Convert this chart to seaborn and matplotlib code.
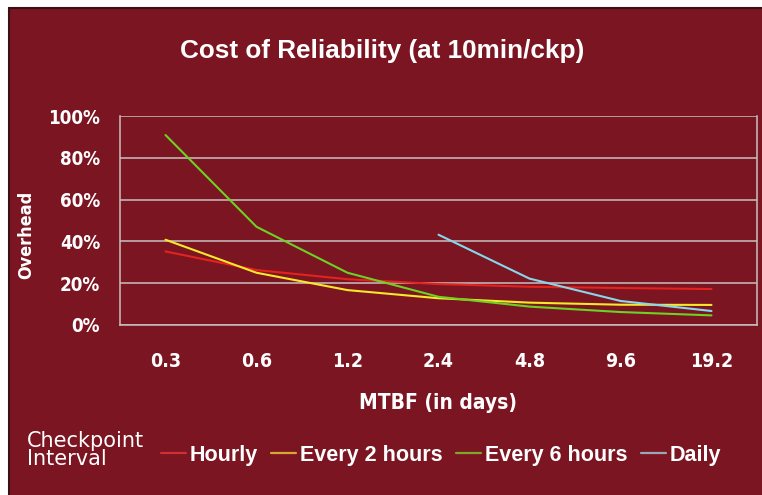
import matplotlib
matplotlib.use("Agg")
import matplotlib.pyplot as plt
from matplotlib.patches import Rectangle
from matplotlib.lines import Line2D
from matplotlib.ticker import FixedLocator, FuncFormatter
from matplotlib.font_manager import FontProperties
import seaborn as sns
import pandas as pd
import numpy as np

# MTBF categories (days) and overhead (%) per checkpoint interval
mtbf = ["0.3", "0.6", "1.2", "2.4", "4.8", "9.6", "19.2"]
hourly = [35.2, 26.3, 21.9, 19.6, 18.3, 17.7, 17.2]
every_2h = [40.8, 25.0, 16.7, 12.8, 10.7, 9.7, 9.6]
every_6h = [90.9, 47.0, 25.0, 13.5, 8.8, 6.2, 4.6]
daily = [None, None, None, 43.2, 22.2, 11.5, 6.7]
series_names = ["Hourly", "Every 2 hours", "Every 6 hours", "Daily"]
yticks = [0, 20, 40, 60, 80, 100]

BG = "#7B1522"
line_colors = ["#E4221E", "#F7E82A", "#6CD223", "#86D8EA"]
legend_colors = ["#D03030", "#D8A830", "#80A828", "#98A8B8"]
GRID = "#C8C0C0"

rows = []
for name, vals in zip(series_names, [hourly, every_2h, every_6h, daily]):
    for i, (m, v) in enumerate(zip(mtbf, vals)):
        if v is not None:
            rows.append({"pos": i, "MTBF": m, "Overhead": v, "Interval": name})
df = pd.DataFrame(rows)

sns.set_style("white")
plain = ["Liberation Sans", "DejaVu Sans"]
plt.rcParams["font.family"] = plain

PX = 72 / 100  # points per pixel at dpi 100


def narrow_font(size):
    return FontProperties(family="DejaVu Sans", stretch="condensed", weight="bold", size=size)


W, H = 762, 495
fig = plt.figure(figsize=(W / 100, H / 100), dpi=100)
fig.patch.set_facecolor("white")
# dark red slide panel with a thin dark frame on its left/top edges
fig.patches.append(Rectangle((8 / W, 0), 1, 1 - 7 / H, transform=fig.transFigure,
                             facecolor=BG, edgecolor="none", zorder=-2))
fig.add_artist(Line2D([8.5 / W, 8.5 / W], [0, 1 - 7.5 / H], transform=fig.transFigure,
                      color="#3A1014", lw=1.5))
fig.add_artist(Line2D([8.5 / W, 1], [1 - 7.5 / H, 1 - 7.5 / H], transform=fig.transFigure,
                      color="#3A1014", lw=1.5))

ax = fig.add_axes([120 / W, 170 / H, (757 - 120) / W, (379 - 170) / H])
ax.set_facecolor(BG)

sns.lineplot(data=df, x="pos", y="Overhead", hue="Interval", hue_order=series_names,
             palette=line_colors, linewidth=1.5, legend=False, ax=ax, sort=False)

ax.set_xlim(-0.5, len(mtbf) - 0.5)
ax.set_ylim(0, 100)
ax.xaxis.set_major_locator(FixedLocator(range(len(mtbf))))
ax.set_xticklabels(mtbf)
ax.xaxis.set_minor_locator(FixedLocator(np.arange(-0.5, len(mtbf), 1.0)))
ax.tick_params(axis="x", which="major", length=0, pad=27 * PX, labelcolor="white")
ax.tick_params(axis="x", which="minor", length=7 * PX, width=1.1, color=GRID, direction="out")
ax.yaxis.set_major_locator(FixedLocator(yticks))
ax.yaxis.set_major_formatter(FuncFormatter(lambda v, _: f"{v:.0f}%"))
ax.tick_params(axis="y", which="major", length=8 * PX, width=1.1, color=GRID, direction="out",
               pad=12 * PX, labelcolor="white")
for lab in ax.get_xticklabels():
    lab.set_fontproperties(narrow_font(14))
for lab in ax.get_yticklabels():
    lab.set_fontproperties(narrow_font(13.5))

ax.grid(axis="y", color=GRID, lw=1.1)
ax.set_axisbelow(True)
for side in ["left", "bottom", "right"]:
    ax.spines[side].set_color(GRID)
    ax.spines[side].set_linewidth(1.1)
ax.spines["top"].set_visible(False)

ax.set_xlabel("")
ax.set_ylabel("")
fig.text(26 / W, 1 - 235 / H, "Overhead", rotation=90, ha="center", va="center",
         color="white", fontproperties=narrow_font(13))
fig.text(438 / W, 1 - 403 / H, "MTBF (in days)", ha="center", va="center",
         color="white", fontproperties=narrow_font(15))
fig.text(382 / W, 1 - 51 / H, "Cost of Reliability (at 10min/ckp)", ha="center", va="center",
         color="white", fontsize=18.8, fontweight="bold", family=plain)
fig.text(27 / W, 1 - 450 / H, "Checkpoint\nInterval", ha="left", va="center",
         color="white", fontsize=15, family=["DejaVu Sans"], linespacing=0.88)

handles = [Line2D([], [], color=c, lw=1.6) for c in legend_colors]
leg = fig.legend(handles, series_names, loc="center", bbox_to_anchor=(441 / W, 1 - 455 / H),
                 ncol=4, frameon=False, handlelength=1.16, handletextpad=0.2,
                 columnspacing=0.6,
                 prop=FontProperties(family=plain, weight="bold", size=15.5))
for t in leg.get_texts():
    t.set_color("white")

fig.savefig("out.png", dpi=100, facecolor=fig.get_facecolor())
